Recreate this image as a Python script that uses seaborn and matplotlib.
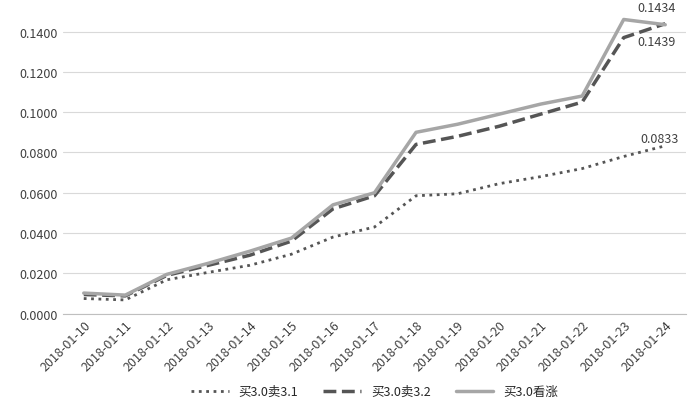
import matplotlib
matplotlib.use('Agg')
import matplotlib.pyplot as plt
import seaborn as sns
import pandas as pd

dates = ['2018-01-%02d' % d for d in range(10, 25)]
s31 = [0.0075, 0.0068, 0.0168, 0.0205, 0.0240, 0.0295, 0.0380, 0.0430,
       0.0585, 0.0595, 0.0645, 0.0680, 0.0720, 0.0780, 0.0833]
s32 = [0.0095, 0.0088, 0.0190, 0.0240, 0.0290, 0.0360, 0.0520, 0.0585,
       0.0840, 0.0880, 0.0930, 0.0990, 0.1050, 0.1370, 0.1439]
call = [0.0102, 0.0092, 0.0195, 0.0250, 0.0310, 0.0375, 0.0540, 0.0600,
        0.0900, 0.0940, 0.0990, 0.1040, 0.1080, 0.1460, 0.1434]
names = ['买3.0卖3.1', '买3.0卖3.2', '买3.0看涨']

sns.set_style('white')
plt.rcParams['font.family'] = ['Noto Sans CJK SC', 'DejaVu Sans']

df = pd.DataFrame({'date': dates, names[0]: s31, names[1]: s32, names[2]: call})
fig, ax = plt.subplots(figsize=(7, 4.14), dpi=100)
x = range(len(dates))
sns.lineplot(x=x, y=df[names[0]], ax=ax, color='#555555', lw=2, ls=':', label=names[0])
sns.lineplot(x=x, y=df[names[1]], ax=ax, color='#555555', lw=2.5, ls='--', label=names[1])
sns.lineplot(x=x, y=df[names[2]], ax=ax, color='#a6a6a6', lw=2.5, label=names[2])

ax.set_xlim(-0.5, len(dates) - 0.5)
ax.set_ylim(0, 0.15)
ax.set_yticks([i * 0.02 for i in range(8)])
ax.set_yticklabels(['%.4f' % (i * 0.02) for i in range(8)], fontsize=9, color='#404040')
ax.set_xticks(list(x))
ax.set_xticklabels(dates, rotation=45, ha='right', rotation_mode='anchor', fontsize=9, color='#404040')
ax.yaxis.grid(True, color='#d9d9d9', lw=0.8)
ax.set_ylabel('')
for s in ['top', 'right', 'left']:
    ax.spines[s].set_visible(False)
ax.spines['bottom'].set_color('#bfbfbf')
ax.tick_params(length=0)

ax.annotate('%.4f' % s31[-1], (14, s31[-1]), xytext=(-18, 3), textcoords='offset points', fontsize=9, color='#404040')
ax.annotate('%.4f' % call[-1], (14, call[-1]), xytext=(-20, 10), textcoords='offset points', fontsize=9, color='#404040')
ax.annotate('%.4f' % s32[-1], (14, s32[-1]), xytext=(-20, -15), textcoords='offset points', fontsize=9, color='#404040')

ax.legend(loc='upper center', bbox_to_anchor=(0.5, -0.2), ncol=3, frameon=False, fontsize=9,
          handlelength=3)
plt.subplots_adjust(left=0.09, right=0.98, top=0.97, bottom=0.24)
plt.savefig('out.png')
